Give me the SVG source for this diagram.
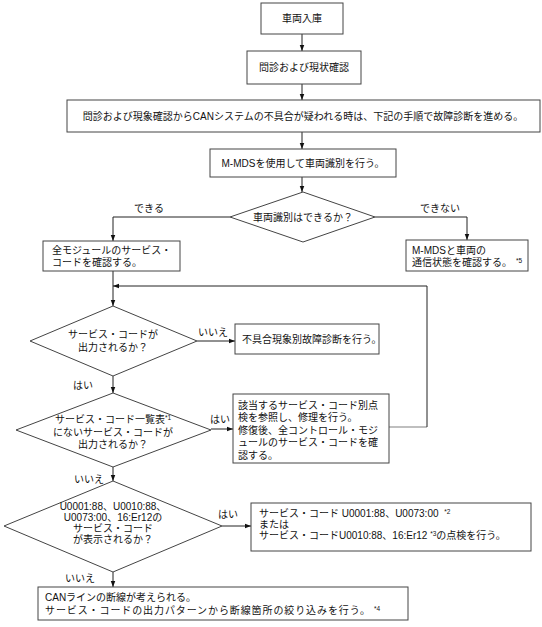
<svg xmlns="http://www.w3.org/2000/svg" width="542" height="627" viewBox="0 0 542 627">
<style>
.n{fill:#fff;stroke:#444;stroke-width:1}
.t{font-family:"Liberation Sans","Noto Sans CJK JP",sans-serif;font-size:10px;fill:#111}
.c{text-anchor:middle}
.l{fill:none;stroke:#222;stroke-width:1}
.g{fill:none;stroke:#aaa;stroke-width:1.5}
.s{font-size:6.5px}
</style>
<defs>
<marker id="a" viewBox="0 0 8 8" refX="8" refY="4" markerWidth="6" markerHeight="6" orient="auto" markerUnits="userSpaceOnUse">
<path d="M0,1 L8,4 L0,7 z" fill="#111"/>
</marker>
</defs>
<rect width="542" height="627" fill="#fff"/>
<g id="connectors">
<line class="l" x1="302" y1="34" x2="302" y2="51" marker-end="url(#a)"/>
<line class="l" x1="302" y1="84" x2="302" y2="100" marker-end="url(#a)"/>
<line class="l" x1="302" y1="132" x2="302" y2="149" marker-end="url(#a)"/>
<line class="l" x1="302" y1="177" x2="302" y2="192" marker-end="url(#a)"/>
<polyline class="l" points="230,217 113,217 113,241" marker-end="url(#a)"/>
<polyline class="l" points="375,217 467,217 467,240" marker-end="url(#a)"/>
<line class="l" x1="113" y1="271" x2="113" y2="306" marker-end="url(#a)"/>
<line class="g" x1="389" y1="427" x2="427" y2="427"/>
<polyline class="l" points="427,427 427,286 113,286" marker-end="url(#a)"/>
<line class="l" x1="197" y1="341" x2="235" y2="341" marker-end="url(#a)"/>
<line class="l" x1="113" y1="376" x2="113" y2="393" marker-end="url(#a)"/>
<line class="l" x1="211" y1="429" x2="233" y2="429" marker-end="url(#a)"/>
<line class="l" x1="113" y1="467" x2="113" y2="481" marker-end="url(#a)"/>
<line class="l" x1="222" y1="526" x2="251" y2="526" marker-end="url(#a)"/>
<line class="l" x1="113" y1="572" x2="113" y2="587" marker-end="url(#a)"/>
<text class="t c" x="149" y="212">できる</text>
<text class="t c" x="440" y="212">できない</text>
<text class="t c" x="213" y="336">いいえ</text>
<text class="t c" x="83" y="389">はい</text>
<text class="t c" x="220" y="423">はい</text>
<text class="t c" x="89" y="483">いいえ</text>
<text class="t c" x="228" y="518">はい</text>
<text class="t c" x="80" y="582">いいえ</text>
</g>
<g id="n1"><rect class="n" x="261" y="3" width="82" height="31"/><text class="t c" x="302" y="22">車両入庫</text></g>
<g id="n2"><rect class="n" x="247" y="51" width="114" height="33"/><text class="t c" x="304" y="71">問診および現状確認</text></g>
<g id="n3"><rect class="n" x="67" y="100" width="473" height="32"/><text class="t c" x="303" y="120">問診および現象確認からCANシステムの不具合が疑われる時は、下記の手順で故障診断を進める。</text></g>
<g id="n4"><rect class="n" x="210" y="149" width="186" height="28"/><text class="t c" x="303" y="167">M-MDSを使用して車両識別を行う。</text></g>
<g id="d1"><polygon class="n" points="303,192 375,217 303,242 230,217"/><text class="t c" x="303" y="221">車両識別はできるか？</text></g>
<g id="n5"><rect class="n" x="43" y="241" width="137" height="30"/><text class="t" x="52" y="254">全モジュールのサービス・</text><text class="t" x="52" y="266">コードを確認する。</text></g>
<g id="n6"><rect class="n" x="406" y="240" width="122" height="31"/><text class="t" x="412" y="254">M-MDSと車両の</text><text class="t" x="412" y="266">通信状態を確認する。<tspan class="s" dx="4" dy="-3">*5</tspan></text></g>
<g id="d2"><polygon class="n" points="113,306 197,341 113,376 30,341"/><text class="t c" x="113" y="338">サービス・コードが</text><text class="t c" x="113" y="351">出力されるか？</text></g>
<g id="n7"><rect class="n" x="235" y="324" width="144" height="30"/><text class="t" x="242" y="343">不具合現象別故障診断を行う。</text></g>
<g id="d3"><polygon class="n" points="113,393 211,430 113,467 16,430"/><text class="t c" x="113" y="423">サービス・コード一覧表<tspan class="s" dy="-3">*1</tspan></text><text class="t c" x="113" y="436">にないサービス・コードが</text><text class="t c" x="113" y="448">出力されるか？</text></g>
<g id="n8"><rect class="n" x="233" y="394" width="156" height="69"/><text class="t" x="238" y="409">該当するサービス・コード別点</text><text class="t" x="238" y="421">検を参照し、修理を行う。</text><text class="t" x="238" y="434">修復後、全コントロール・モジ</text><text class="t" x="238" y="446">ュールのサービス・コードを確</text><text class="t" x="238" y="459">認する。</text></g>
<g id="d4"><polygon class="n" points="113,481 222,526 113,572 4,526"/><text class="t c" x="113" y="510">U0001:88、U0010:88、</text><text class="t c" x="113" y="521">U0073:00、16:Er12の</text><text class="t c" x="113" y="532">サービス・コード</text><text class="t c" x="113" y="543">が表示されるか？</text></g>
<g id="n9"><rect class="n" x="251" y="503" width="280" height="48"/><text class="t" x="259" y="517">サービス・コード U0001:88、U0073:00 <tspan class="s" dx="3" dy="-3">*2</tspan></text><text class="t" x="259" y="528">または</text><text class="t" x="259" y="539">サービス・コードU0010:88、16:Er12 <tspan class="s" dy="-3">*3</tspan><tspan dy="3">の点検を行う。</tspan></text></g>
<g id="n10"><rect class="n" x="38" y="587" width="370" height="33"/><text class="t" x="45" y="601">CANラインの断線が考えられる。</text><text class="t" x="45" y="614" letter-spacing="0.9">サービス・コードの出力パターンから断線箇所の絞り込みを行う。<tspan class="s" dx="3" dy="-3" letter-spacing="0">*4</tspan></text></g>
</svg>
